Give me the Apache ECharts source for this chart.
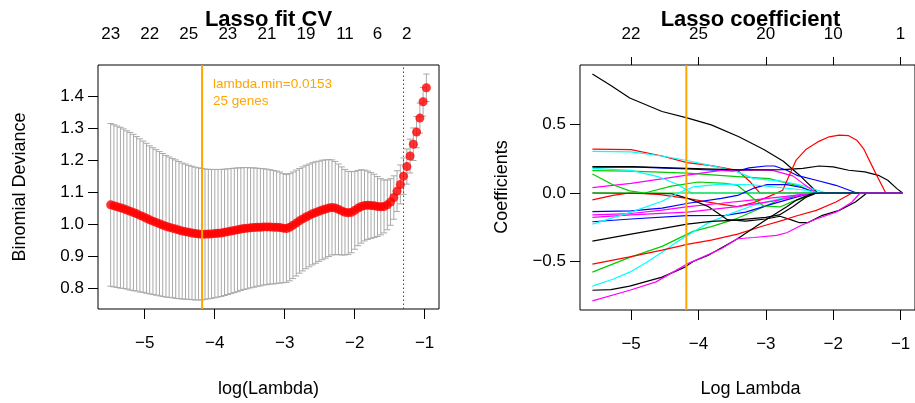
<!DOCTYPE html>
<html>
<head>
<meta charset="utf-8">
<script src="https://cdn.jsdelivr.net/npm/echarts@6.0.0/dist/echarts.min.js"></script>
<style>
  html, body { margin: 0; padding: 0; background: #fff; }
  #chart { width: 915px; height: 403px; }
</style>
</head>
<body>
<div id="chart"></div>
<script>
// ---------- cross-validation curve (left panel) ----------
const logLambdaCV = [
  -5.487,-5.440,-5.394,-5.347,-5.301,-5.254,-5.208,-5.161,-5.115,-5.068,
  -5.022,-4.975,-4.929,-4.882,-4.836,-4.789,-4.743,-4.696,-4.650,-4.603,
  -4.557,-4.510,-4.464,-4.417,-4.371,-4.324,-4.278,-4.231,-4.185,-4.138,
  -4.091,-4.045,-3.998,-3.952,-3.905,-3.859,-3.812,-3.766,-3.719,-3.673,
  -3.626,-3.580,-3.533,-3.487,-3.440,-3.394,-3.347,-3.301,-3.254,-3.208,
  -3.161,-3.115,-3.068,-3.021,-2.975,-2.928,-2.882,-2.835,-2.789,-2.742,
  -2.696,-2.649,-2.603,-2.556,-2.510,-2.463,-2.417,-2.370,-2.324,-2.277,
  -2.231,-2.184,-2.138,-2.091,-2.045,-1.998,-1.952,-1.905,-1.859,-1.812,
  -1.766,-1.719,-1.673,-1.626,-1.580,-1.533,-1.487,-1.440,-1.394,-1.347,
  -1.301,-1.254,-1.208,-1.161,-1.115,-1.068,-1.022,-0.975
];
const cvMean = [
  1.060,1.057,1.054,1.051,1.048,1.044,1.040,1.036,1.032,1.027,
  1.023,1.018,1.013,1.009,1.005,1.001,0.997,0.993,0.990,0.987,
  0.984,0.981,0.978,0.976,0.974,0.972,0.970,0.969,0.968,0.9682,
  0.9685,0.969,0.970,0.971,0.972,0.974,0.976,0.978,0.980,0.982,
  0.984,0.986,0.987,0.988,0.989,0.990,0.990,0.991,0.991,0.991,
  0.990,0.990,0.989,0.987,0.986,0.990,0.996,1.003,1.010,1.016,
  1.022,1.027,1.032,1.036,1.040,1.044,1.047,1.050,1.052,1.050,
  1.046,1.041,1.037,1.035,1.037,1.043,1.050,1.055,1.058,1.059,
  1.058,1.057,1.055,1.054,1.055,1.060,1.069,1.083,1.103,1.124,
  1.150,1.180,1.213,1.250,1.288,1.332,1.383,1.427
];
const cvSD = [
  0.255,0.254,0.253,0.252,0.250,0.248,0.247,0.245,0.242,0.240,
  0.237,0.235,0.232,0.230,0.228,0.226,0.224,0.222,0.220,0.218,
  0.217,0.215,0.213,0.212,0.210,0.209,0.208,0.207,0.206,0.204,
  0.203,0.202,0.201,0.200,0.199,0.198,0.197,0.196,0.195,0.194,
  0.192,0.191,0.190,0.188,0.187,0.185,0.184,0.182,0.181,0.179,
  0.178,0.176,0.174,0.171,0.169,0.168,0.167,0.166,0.164,0.163,
  0.162,0.161,0.160,0.159,0.157,0.156,0.154,0.152,0.149,0.146,
  0.142,0.138,0.134,0.130,0.127,0.122,0.118,0.115,0.111,0.107,
  0.103,0.099,0.094,0.088,0.083,0.078,0.073,0.068,0.064,0.061,
  0.057,0.055,0.053,0.051,0.049,0.047,0.045,0.043
];
const lambdaMin = 0.0153;
const genesAtMin = 25;
const logLambda1se = -1.301;
// number of non-zero coefficients printed along the top of the CV plot
const cvTopAt = [-5.487, -4.929, -4.371, -3.812, -3.254, -2.696, -2.138, -1.673, -1.254];
const cvTopCounts = [23, 22, 25, 23, 21, 19, 11, 6, 2];
const cvXTicks = [-5, -4, -3, -2, -1];
const cvYTicks = [0.8, 0.9, 1.0, 1.1, 1.2, 1.3, 1.4];

// ---------- coefficient paths (right panel) ----------
const pathXTicks = [-5, -4, -3, -2, -1];
const pathTopCounts = [22, 25, 20, 10, 1];
const pathYTicks = [-0.5, 0, 0.5];

const path01 = [[-5.574,0.868],[-5.3,0.785],[-5.02,0.693],[-4.54,0.595],[-4.17,0.548],[-3.81,0.497],[-3.4,0.41],[-3.03,0.318],[-2.74,0.232],[-2.5,0.13],[-2.23,0],[-0.97,0]];
const path02 = [[-5.574,0.32],[-5.0,0.317],[-4.54,0.27],[-4.17,0.222],[-3.81,0.2],[-3.42,0.165],[-3.23,0.08],[-3.09,0],[-0.97,0]];
const path03 = [[-5.574,0.163],[-5.0,0.16],[-4.17,0.145],[-3.42,0.12],[-2.95,0.105],[-2.5,0.05],[-2.25,0],[-0.97,0]];
const path04 = [[-5.574,0.188],[-5.0,0.19],[-4.17,0.175],[-3.42,0.16],[-3.25,0.183],[-3.0,0.197],[-2.87,0.197],[-2.69,0.166],[-2.54,0.129],[-2.25,0.093],[-1.96,0.056],[-1.65,0],[-0.97,0]];
const path05 = [[-5.574,0.303],[-5.0,0.30],[-4.54,0.27],[-4.17,0.237],[-3.66,0.183],[-3.42,0.154],[-3.18,0.105],[-2.8,0.088],[-2.5,0.06],[-2.1,0],[-0.97,0]];
const path06 = [[-5.574,0.039],[-5.0,0.07],[-4.17,0.13],[-3.66,0.165],[-3.25,0.168],[-2.9,0.165],[-2.6,0.125],[-2.45,0.07],[-2.25,0],[-0.97,0]];
const path07 = [[-5.574,0.193],[-5.0,0.193],[-4.17,0.18],[-3.4,0.168],[-2.75,0.17],[-2.45,0.18],[-2.21,0.197],[-2.0,0.19],[-1.77,0.166],[-1.53,0.154],[-1.33,0.129],[-1.19,0.093],[-1.05,0.03],[-0.97,0]];
const path08 = [[-5.574,-0.05],[-5.27,-0.017],[-5.02,0],[-4.6,-0.01],[-4.17,-0.04],[-3.7,-0.08],[-3.42,-0.1],[-3.18,-0.07],[-2.95,-0.025],[-2.75,0.02],[-2.55,0.24],[-2.40,0.32],[-2.23,0.373],[-2.06,0.41],[-1.91,0.422],[-1.77,0.418],[-1.65,0.385],[-1.55,0.324],[-1.38,0.154],[-1.22,0],[-0.97,0]];
const path09 = [[-5.574,-0.578],[-5.02,-0.47],[-4.54,-0.39],[-4.08,-0.28],[-3.81,-0.246],[-3.42,-0.185],[-3.03,-0.1],[-2.74,-0.039],[-2.35,0],[-0.97,0]];
const path10 = [[-5.574,-0.21],[-5.0,-0.19],[-4.17,-0.165],[-3.6,-0.163],[-3.3,-0.14],[-2.9,-0.08],[-2.55,-0.03],[-2.3,0],[-0.97,0]];
const path11 = [[-5.574,-0.68],[-5.27,-0.63],[-5.02,-0.578],[-4.78,-0.51],[-4.54,-0.432],[-4.3,-0.35],[-4.08,-0.285],[-3.86,-0.22],[-3.57,-0.16],[-3.18,-0.09],[-2.69,-0.029],[-2.35,0],[-0.97,0]];
const path12 = [[-5.574,-0.16],[-5.0,-0.15],[-4.54,-0.125],[-4.15,-0.1],[-3.66,-0.075],[-3.18,-0.05],[-2.7,-0.025],[-2.3,0],[-0.97,0]];
const path13 = [[-5.574,0],[-4.4,-0.005],[-4.15,-0.04],[-3.85,-0.1],[-3.57,-0.195],[-3.3,-0.205],[-3.0,-0.19],[-2.79,-0.17],[-2.6,-0.2],[-2.5,-0.217],[-2.38,-0.217],[-2.16,-0.163],[-1.91,-0.127],[-1.67,-0.066],[-1.50,0],[-0.97,0]];
const path14 = [[-5.574,-0.519],[-5.02,-0.466],[-4.54,-0.417],[-4.15,-0.373],[-3.81,-0.344],[-3.42,-0.3],[-3.03,-0.239],[-2.74,-0.198],[-2.55,-0.168],[-2.25,-0.127],[-1.96,-0.066],[-1.72,0],[-0.97,0]];
const path15 = [[-5.574,0.18],[-5.0,0.165],[-4.6,0.12],[-4.3,0.06],[-4.1,0],[-0.97,0]];
const path16 = [[-5.574,0.139],[-5.27,0.06],[-5.02,0.015],[-4.8,0],[-0.97,0]];
const path17 = [[-5.574,0],[-4.8,0],[-4.4,0.05],[-4.0,0.08],[-3.6,0.07],[-3.42,0.056],[-3.18,-0.042],[-3.03,-0.095],[-2.79,-0.102],[-2.6,-0.061],[-2.47,-0.042],[-2.3,-0.01],[-2.25,0],[-0.97,0]];
const path18 = [[-5.574,-0.178],[-5.0,-0.16],[-4.17,-0.14],[-3.42,-0.10],[-2.9,-0.06],[-2.5,-0.02],[-2.25,0],[-0.97,0]];
const path19 = [[-5.574,-0.351],[-5.0,-0.30],[-4.54,-0.26],[-4.17,-0.227],[-3.81,-0.207],[-3.5,-0.2],[-3.0,-0.178],[-2.8,-0.16],[-2.6,-0.1],[-2.4,-0.03],[-2.25,0],[-0.97,0]];
const path20 = [[-5.574,-0.136],[-5.0,-0.13],[-4.54,-0.11],[-4.15,-0.075],[-3.66,-0.04],[-3.42,-0.018],[-3.18,0.035],[-2.98,0.061],[-2.69,0.061],[-2.47,0.04],[-2.25,0],[-0.97,0]];
const path21 = [[-5.574,-0.227],[-5.0,-0.14],[-4.54,-0.06],[-4.3,0],[-4.08,0.044],[-3.66,0.065],[-3.2,0.06],[-2.8,0.04],[-2.4,0.02],[-2.2,0],[-0.97,0]];
const path22 = [[-5.574,-0.71],[-5.3,-0.705],[-5.02,-0.68],[-4.54,-0.614],[-4.2,-0.541],[-4.08,-0.5],[-3.86,-0.456],[-3.42,-0.334],[-2.98,-0.19],[-2.69,-0.1],[-2.54,-0.05],[-2.35,-0.012],[-2.25,0],[-0.97,0]];
const path23 = [[-5.574,-0.788],[-5.02,-0.71],[-4.63,-0.649],[-4.15,-0.514],[-3.66,-0.407],[-3.42,-0.334],[-3.18,-0.325],[-2.84,-0.31],[-2.69,-0.29],[-2.47,-0.236],[-2.25,-0.19],[-1.96,-0.14],[-1.72,-0.066],[-1.6,0],[-0.97,0]];

const coefPaths = [path01, path02, path03, path04, path05, path06, path07, path08, path09, path10,
                   path11, path12, path13, path14, path15, path16, path17, path18, path19, path20,
                   path21, path22, path23];
const pathColors = ['#000000', '#FF0000', '#00CD00', '#0000FF', '#00FFFF', '#FF00FF', '#000000', '#FF0000',
                    '#00CD00', '#0000FF', '#00FFFF', '#FF00FF', '#000000', '#FF0000', '#00FFFF', '#00CD00',
                    '#00CD00', '#FF00FF', '#000000', '#0000FF', '#00FFFF', '#000000', '#FF00FF'];

// ---------- drawing ----------
const FONT = '"Liberation Sans", Arial, Helvetica, sans-serif';
const ORANGE = '#FFA500';

function signed(v, digits) {
  const s = Math.abs(v).toFixed(digits);
  return v < -1e-9 ? '\u2212' + s : s;
}
function lookup(values, labels) {
  return function (v) {
    const k = values.findIndex(a => Math.abs(a - v) < 1e-6);
    return k >= 0 ? String(labels[k]) : '';
  };
}

// axis limits follow the 4% padding around the data range
const cvXRange = [Math.min(...logLambdaCV), Math.max(...logLambdaCV)];
const cvXPad = 0.04 * (cvXRange[1] - cvXRange[0]);
const cvLo = cvMean.map((m, i) => m - cvSD[i]);
const cvHi = cvMean.map((m, i) => m + cvSD[i]);
const cvYRange = [Math.min(...cvLo), Math.max(...cvHi)];
const cvYPad = 0.04 * (cvYRange[1] - cvYRange[0]);

const allX = coefPaths.flat().map(p => p[0]);
const allY = coefPaths.flat().map(p => p[1]);
const pXRange = [Math.min(...allX), Math.max(...allX)];
const pXPad = 0.04 * (pXRange[1] - pXRange[0]);
const pYRange = [Math.min(...allY), Math.max(...allY)];
const pYPad = 0.04 * (pYRange[1] - pYRange[0]);

const capHalf = 0.01 * (cvXRange[1] - cvXRange[0]);

const tickLabel = { color: '#000', fontFamily: FONT, fontSize: 17 };
const tickLine = { color: '#000', width: 1 };

const chart = echarts.init(document.getElementById('chart'), null, { renderer: 'canvas' });

const series = [];

// error bars
series.push({
  type: 'custom',
  xAxisIndex: 0, yAxisIndex: 0,
  data: logLambdaCV.map((x, i) => [x, cvMean[i], cvSD[i]]),
  encode: { x: 0, y: 1 },
  silent: true,
  z: 2,
  renderItem: function (params, api) {
    const x = api.value(0), m = api.value(1), s = api.value(2);
    const hi = api.coord([x, m + s]);
    const lo = api.coord([x, m - s]);
    const half = api.size([capHalf, 0])[0];
    const style = { stroke: '#A9A9A9', lineWidth: 1, fill: null };
    return {
      type: 'group',
      children: [
        { type: 'line', shape: { x1: hi[0], y1: hi[1], x2: lo[0], y2: lo[1] }, style: style },
        { type: 'line', shape: { x1: hi[0] - half, y1: hi[1], x2: hi[0] + half, y2: hi[1] }, style: style },
        { type: 'line', shape: { x1: lo[0] - half, y1: lo[1], x2: lo[0] + half, y2: lo[1] }, style: style }
      ]
    };
  }
});

// mean CV deviance points
series.push({
  type: 'scatter',
  xAxisIndex: 0, yAxisIndex: 0,
  data: logLambdaCV.map((x, i) => [x, cvMean[i]]),
  symbol: 'circle',
  symbolSize: 9,
  itemStyle: { color: '#FF0000' },
  silent: true,
  z: 3
});

const cvYLim = [cvYRange[0] - cvYPad, cvYRange[1] + cvYPad];
const pYLim = [pYRange[0] - pYPad, pYRange[1] + pYPad];

// lambda.1se (dotted) and lambda.min (orange) on the CV panel
series.push({
  type: 'line', xAxisIndex: 0, yAxisIndex: 0,
  data: [[logLambda1se, cvYLim[0]], [logLambda1se, cvYLim[1]]],
  symbol: 'none', silent: true, z: 4,
  lineStyle: { color: '#444', width: 1, type: [1.5, 2.5] }
});
series.push({
  type: 'line', xAxisIndex: 0, yAxisIndex: 0,
  data: [[Math.log(lambdaMin), cvYLim[0]], [Math.log(lambdaMin), cvYLim[1]]],
  symbol: 'none', silent: true, z: 5,
  lineStyle: { color: ORANGE, width: 2 }
});

// coefficient paths
coefPaths.forEach((pts, k) => {
  series.push({
    type: 'line',
    xAxisIndex: 2, yAxisIndex: 1,
    data: pts,
    symbol: 'none',
    silent: true,
    z: 2,
    lineStyle: { color: pathColors[k], width: 1.2 }
  });
});
series.push({
  type: 'line', xAxisIndex: 2, yAxisIndex: 1,
  data: [[Math.log(lambdaMin), pYLim[0]], [Math.log(lambdaMin), pYLim[1]]],
  symbol: 'none', silent: true, z: 5,
  lineStyle: { color: ORANGE, width: 2 }
});

const noLine = { show: false, onZero: false };

const option = {
  animation: false,
  backgroundColor: '#fff',
  grid: [
    { left: 98, top: 65, width: 341, height: 244, show: true, borderColor: '#000', borderWidth: 1, backgroundColor: 'transparent' },
    { left: 580, top: 65, width: 341, height: 245, show: true, borderColor: '#000', borderWidth: 1, backgroundColor: 'transparent' }
  ],
  xAxis: [
    {
      gridIndex: 0, type: 'value', position: 'bottom',
      min: cvXRange[0] - cvXPad, max: cvXRange[1] + cvXPad,
      axisLine: noLine,
      axisTick: { show: true, length: 10, inside: false, customValues: cvXTicks, lineStyle: tickLine },
      axisLabel: Object.assign({ customValues: cvXTicks, margin: 26, formatter: v => signed(v, 0) }, tickLabel),
      splitLine: { show: false }
    },
    {
      gridIndex: 0, type: 'value', position: 'top',
      min: cvXRange[0] - cvXPad, max: cvXRange[1] + cvXPad,
      axisLine: noLine,
      axisTick: { show: false },
      axisLabel: Object.assign({ customValues: cvTopAt, margin: 22, formatter: lookup(cvTopAt, cvTopCounts) }, tickLabel),
      splitLine: { show: false }
    },
    {
      gridIndex: 1, type: 'value', position: 'bottom',
      min: pXRange[0] - pXPad, max: pXRange[1] + pXPad,
      axisLine: noLine,
      axisTick: { show: true, length: 10, customValues: pathXTicks, lineStyle: tickLine },
      axisLabel: Object.assign({ customValues: pathXTicks, margin: 26, formatter: v => signed(v, 0) }, tickLabel),
      splitLine: { show: false }
    },
    {
      gridIndex: 1, type: 'value', position: 'top',
      min: pXRange[0] - pXPad, max: pXRange[1] + pXPad,
      axisLine: noLine,
      axisTick: { show: true, length: 8, customValues: pathXTicks, lineStyle: tickLine },
      axisLabel: Object.assign({ customValues: pathXTicks, margin: 22, formatter: lookup(pathXTicks, pathTopCounts) }, tickLabel),
      splitLine: { show: false }
    }
  ],
  yAxis: [
    {
      gridIndex: 0, type: 'value', position: 'left',
      min: cvYLim[0], max: cvYLim[1],
      axisLine: noLine,
      axisTick: { show: true, length: 10, customValues: cvYTicks, lineStyle: tickLine },
      axisLabel: Object.assign({ customValues: cvYTicks, margin: 14, formatter: v => v.toFixed(1) }, tickLabel),
      splitLine: { show: false }
    },
    {
      gridIndex: 1, type: 'value', position: 'left',
      min: pYLim[0], max: pYLim[1],
      axisLine: noLine,
      axisTick: { show: true, length: 10, customValues: pathYTicks, lineStyle: tickLine },
      axisLabel: Object.assign({ customValues: pathYTicks, margin: 14, formatter: v => signed(v, 1) }, tickLabel),
      splitLine: { show: false }
    }
  ],
  graphic: [
    { type: 'text', x: 268.5, y: 20, z: 10, style: { text: 'Lasso fit CV', fill: '#000', font: 'bold 22px ' + FONT, textAlign: 'center', textVerticalAlign: 'middle', verticalAlign: 'middle' } },
    { type: 'text', x: 750.5, y: 20, z: 10, style: { text: 'Lasso coefficient', fill: '#000', font: 'bold 22px ' + FONT, textAlign: 'center', textVerticalAlign: 'middle', verticalAlign: 'middle' } },
    { type: 'text', x: 268.5, y: 389, style: { text: 'log(Lambda)', fill: '#000', font: '18px ' + FONT, textAlign: 'center', textVerticalAlign: 'middle', verticalAlign: 'middle' } },
    { type: 'text', x: 750.5, y: 389, style: { text: 'Log Lambda', fill: '#000', font: '18px ' + FONT, textAlign: 'center', textVerticalAlign: 'middle', verticalAlign: 'middle' } },
    { type: 'text', x: 20, y: 187, rotation: Math.PI / 2, style: { text: 'Binomial Deviance', fill: '#000', font: '18px ' + FONT, textAlign: 'center', textVerticalAlign: 'middle', verticalAlign: 'middle' } },
    { type: 'text', x: 502, y: 187, rotation: Math.PI / 2, style: { text: 'Coefficients', fill: '#000', font: '18px ' + FONT, textAlign: 'center', textVerticalAlign: 'middle', verticalAlign: 'middle' } },
    { type: 'text', x: 213, y: 84, z: 10, style: { text: 'lambda.min=' + lambdaMin, fill: ORANGE, font: '13.5px ' + FONT, textAlign: 'left', textVerticalAlign: 'middle', verticalAlign: 'middle' } },
    { type: 'text', x: 213, y: 101, z: 10, style: { text: genesAtMin + ' genes', fill: ORANGE, font: '13.5px ' + FONT, textAlign: 'left', textVerticalAlign: 'middle', verticalAlign: 'middle' } }
  ],
  series: series
};

chart.setOption(option);
</script>
</body>
</html>
